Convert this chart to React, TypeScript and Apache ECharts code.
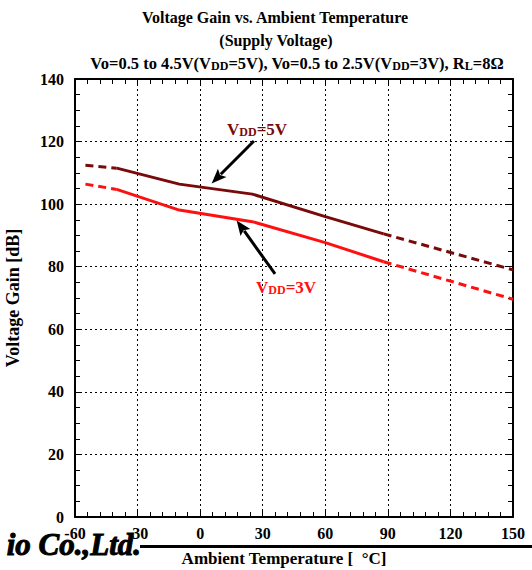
import React, { useEffect, useRef } from "react";
import * as echarts from "echarts";

const temps5 = [-55, -40, -10, 25, 60, 88, 150];
const gain5 = [112.4, 111.5, 106.4, 103.2, 96, 90.5, 79];
const temps3 = [-55, -40, -10, 25, 60, 88, 150];
const gain3 = [106.4, 104.7, 98.1, 94.4, 87.7, 81.6, 69.6];
const xTicks = { min: -60, max: 150, interval: 30 };
const yTicks = { min: 0, max: 140, interval: 20 };
// annotation arrows in data units: [fromT, fromG, toT, toG]
const arrow5 = [25.8, 120.2, 5.5, 106.6];
const arrow3 = [35.9, 77.7, 17.5, 94.8];
const label5 = [27.3, 124];
const label3 = [41.2, 73.5];

const DARK = "#7a0a0a";
const RED = "#ff1010";
const FONT = "'Liberation Serif', 'Times New Roman', serif";

function pairs(t: number[], v: number[], a: number, b: number) {
  const out: number[][] = [];
  for (let i = a; i <= b; i++) out.push([t[i], v[i]]);
  return out;
}

export default function App() {
  const ref = useRef<HTMLDivElement>(null);
  useEffect(() => {
    const chart = echarts.init(ref.current!, null, { renderer: "svg" });
    const n = temps5.length;
    const lineSeries = (name: string, data: number[][], color: string, dashed: boolean) => ({
      name,
      type: "line",
      data,
      symbol: "none",
      silent: true,
      lineStyle: { color, width: 3, type: dashed ? [8, 5] : "solid" },
      z: 5,
    });
    const axisCommon = {
      axisLine: { show: true, onZero: false, lineStyle: { color: "#000", width: 2 } },
      axisTick: { show: true, inside: true, length: 6, lineStyle: { color: "#000", width: 1 } },
      minorTick: { show: true, length: 5, lineStyle: { color: "#000", width: 1 } },
    };
    const labelStyle = { color: "#000", fontFamily: FONT, fontWeight: "bold", fontSize: 16 };

    const annLabel = (coord: number[], txt: string, color: string) => ({
      coord,
      label: {
        formatter: `{a|V}{b|DD}{a|${txt}}`,
        rich: {
          a: { fontFamily: FONT, fontWeight: "bold", color, fontSize: 17, lineHeight: 18, verticalAlign: "bottom" },
          b: { fontFamily: FONT, fontWeight: "bold", color, fontSize: 12, lineHeight: 15, verticalAlign: "bottom" },
        },
      },
    });

    chart.setOption({
      animation: false,
      grid: { left: 75, top: 79, right: 19, bottom: 53, containLabel: false, outerBoundsMode: "none" },
      xAxis: [
        {
          ...axisCommon,
          type: "value",
          ...xTicks,
          position: "bottom",
          minorTick: { ...axisCommon.minorTick, splitNumber: 5 },
          axisLabel: { ...labelStyle, margin: 8 },
          splitLine: { show: true, lineStyle: { color: "#000", width: 1, type: [2, 3] } },
        },
        {
          ...axisCommon,
          type: "value",
          ...xTicks,
          position: "top",
          minorTick: { ...axisCommon.minorTick, splitNumber: 5 },
          axisLabel: { show: false },
          splitLine: { show: false },
        },
      ],
      yAxis: [
        {
          ...axisCommon,
          type: "value",
          ...yTicks,
          position: "left",
          minorTick: { ...axisCommon.minorTick, splitNumber: 4 },
          axisLabel: { ...labelStyle, margin: 11 },
          splitLine: { show: true, lineStyle: { color: "#000", width: 1, type: [2, 3] } },
          name: "Voltage Gain [dB]",
          nameLocation: "middle",
          nameGap: 53,
          nameTextStyle: { ...labelStyle, fontSize: 18 },
        },
        {
          ...axisCommon,
          type: "value",
          ...yTicks,
          position: "right",
          minorTick: { ...axisCommon.minorTick, splitNumber: 4 },
          axisLabel: { show: false },
          splitLine: { show: false },
        },
      ],
      series: [
        lineSeries("5V a", pairs(temps5, gain5, 0, 1), DARK, true),
        lineSeries("5V b", pairs(temps5, gain5, 1, n - 2), DARK, false),
        lineSeries("5V c", pairs(temps5, gain5, n - 2, n - 1), DARK, true),
        lineSeries("3V a", pairs(temps3, gain3, 0, 1), RED, true),
        lineSeries("3V b", pairs(temps3, gain3, 1, n - 2), RED, false),
        lineSeries("3V c", pairs(temps3, gain3, n - 2, n - 1), RED, true),
        {
          type: "line",
          data: [],
          silent: true,
          markPoint: {
            silent: true,
            symbol: "circle",
            symbolSize: 1,
            itemStyle: { color: "rgba(0,0,0,0)" },
            label: { show: true, position: "inside" },
            data: [annLabel(label5, "=5V", DARK), annLabel(label3, "=3V", RED)],
          },
        },
      ],
      graphic: [
        {
          type: "text",
          x: 275,
          y: 17,
          style: {
            text: "Voltage Gain vs. Ambient Temperature",
            fill: "#000",
            font: `bold 16px ${FONT}`,
            align: "center",
            verticalAlign: "middle",
          },
        },
        {
          type: "text",
          x: 276,
          y: 40,
          style: {
            text: "(Supply Voltage)",
            fill: "#000",
            font: `bold 16px ${FONT}`,
            align: "center",
            verticalAlign: "middle",
          },
        },
        {
          type: "text",
          x: 297,
          y: 63,
          style: {
            text:
              "{a|Vo=0.5 to 4.5V(V}{b|DD}{a|=5V), Vo=0.5 to 2.5V(V}{b|DD}{a|=3V), R}{b|L}{a|=8Ω}",
            align: "center",
            verticalAlign: "middle",
            rich: {
              a: { fill: "#000", fontFamily: FONT, fontWeight: "bold", fontSize: 16.5, lineHeight: 18, verticalAlign: "bottom" },
              b: { fill: "#000", fontFamily: FONT, fontWeight: "bold", fontSize: 12, lineHeight: 15, verticalAlign: "bottom" },
            },
          },
        },
        {
          type: "line",
          shape: { x1: 140, y1: 546.5, x2: 532, y2: 546.5 },
          style: { stroke: "#000", lineWidth: 3 },
        },
        {
          type: "text",
          x: 284,
          y: 558,
          style: {
            text: "Ambient Temperature [  °C]",
            fill: "#000",
            font: `bold 17px ${FONT}`,
            align: "center",
            verticalAlign: "middle",
          },
        },
        {
          type: "text",
          x: 141,
          y: 544,
          z: 100,
          style: {
            text: "io Co.,Ltd.",
            fill: "#000",
            stroke: "#000",
            lineWidth: 1,
            font: `italic bold 31px ${FONT}`,
            align: "right",
            verticalAlign: "middle",
          },
        },
      ],
    });

    const px = (t: number, g: number) =>
      chart.convertToPixel({ xAxisIndex: 0, yAxisIndex: 0 }, [t, g]) as number[];
    const arrowGraphics = (a: number[], id: string) => {
      const p0 = px(a[0], a[1]);
      const p1 = px(a[2], a[3]);
      const dx = p1[0] - p0[0];
      const dy = p1[1] - p0[1];
      const len = Math.hypot(dx, dy);
      const ux = dx / len;
      const uy = dy / len;
      const headL = 15;
      const headW = 6;
      const bx = p1[0] - ux * headL;
      const by = p1[1] - uy * headL;
      return [
        {
          id: id + "l",
          type: "line",
          z: 50,
          shape: { x1: p0[0], y1: p0[1], x2: bx + ux * 2, y2: by + uy * 2 },
          style: { stroke: "#000", lineWidth: 3 },
        },
        {
          id: id + "h",
          type: "polygon",
          z: 50,
          shape: {
            points: [
              [p1[0], p1[1]],
              [bx - uy * headW, by + ux * headW],
              [bx + ux * 3, by + uy * 3],
              [bx + uy * headW, by - ux * headW],
            ],
          },
          style: { fill: "#000" },
        },
      ];
    };
    chart.setOption({
      graphic: [...arrowGraphics(arrow5, "a5"), ...arrowGraphics(arrow3, "a3")],
    });
    return () => chart.dispose();
  }, []);
  return (
    <div
      ref={ref}
      style={{ position: "fixed", left: 0, top: 0, width: 532, height: 570, background: "#fff" }}
    />
  );
}
